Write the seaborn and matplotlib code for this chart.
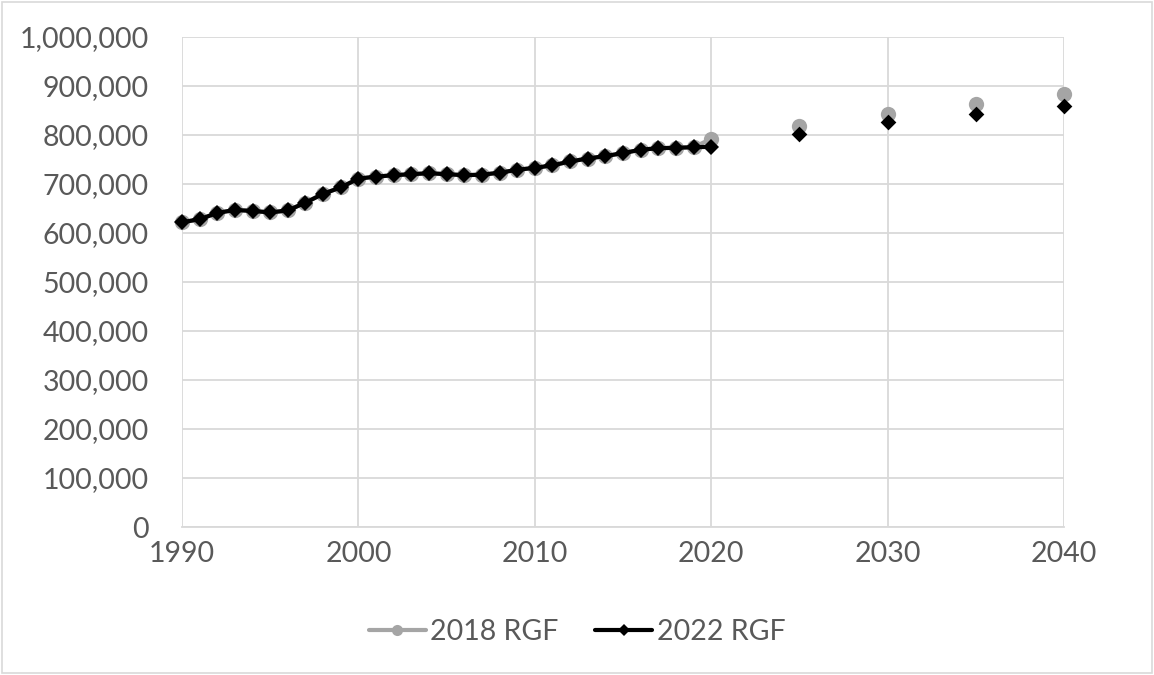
import numpy as np
import pandas as pd
import matplotlib
matplotlib.use("Agg")
import matplotlib.pyplot as plt
import matplotlib.ticker as mticker
from matplotlib.patches import Rectangle
from matplotlib.lines import Line2D
import seaborn as sns

# historical years (both forecasts share the same actuals)
hist_years = list(range(1990, 2021))
hist_2022 = [622000, 628000, 641000, 647000, 645000, 642000, 646000, 662000, 680000, 693000,
             711000, 715000, 718000, 720000, 722000, 720000, 718000, 719000, 723000, 729000,
             733000, 738000, 746000, 752000, 757000, 763000, 770000, 773000, 774000, 775000,
             776000]
hist_2018 = hist_2022[:-1] + [792000]

proj_years = [2025, 2030, 2035, 2040]
proj_2018 = [818000, 842000, 863000, 884000]
proj_2022 = [802000, 826000, 843000, 860000]

grey = "#A5A5A5"
black = "#000000"
text_col = "#595959"
grid_col = "#D9D9D9"

sns.set_style("white")
plt.rcParams["font.family"] = ["Lato", "DejaVu Sans"]

fig = plt.figure(figsize=(11.54, 6.75), dpi=100)
ax = fig.add_axes([182 / 1154, 1 - 527 / 675, (1064 - 182) / 1154, (527 - 37) / 675])

hist = pd.DataFrame({"year": hist_years, "2018": hist_2018, "2022": hist_2022})
proj = pd.DataFrame({"year": proj_years, "2018": proj_2018, "2022": proj_2022})

# 2018 RGF (grey circles) drawn first so 2022 sits on top
sns.lineplot(data=hist, x="year", y="2018", ax=ax, color=grey, lw=3,
             marker="o", markersize=11, markeredgewidth=0, zorder=3)
sns.scatterplot(data=proj, x="year", y="2018", ax=ax, color=grey, marker="o",
                s=121, linewidth=0, zorder=3)

sns.lineplot(data=hist, x="year", y="2022", ax=ax, color=black, lw=3,
             marker="D", markersize=8, markeredgewidth=0, zorder=4)
sns.scatterplot(data=proj, x="year", y="2022", ax=ax, color=black, marker="D",
                s=64, linewidth=0, zorder=4)

for art in ax.lines + ax.collections:
    art.set_clip_on(False)

ax.set_xlim(1990, 2040)
ax.set_ylim(0, 1000000)
ax.set_xticks(range(1990, 2041, 10))
ax.set_yticks(range(0, 1000001, 100000))
ax.yaxis.set_major_formatter(mticker.FuncFormatter(lambda v, p: f"{int(v):,}"))
ax.set_xlabel("")
ax.set_ylabel("")

ax.grid(True, color=grid_col, lw=1.3)
ax.set_axisbelow(True)
for s in ["top", "right", "left"]:
    ax.spines[s].set_visible(False)
ax.spines["bottom"].set_color(grid_col)
ax.spines["bottom"].set_linewidth(1.3)
ax.tick_params(axis="both", length=0, labelsize=20.5, labelcolor=text_col)
ax.tick_params(axis="y", pad=24)
ax.tick_params(axis="x", pad=10)

handles = [
    Line2D([], [], color=grey, lw=3, marker="o", markersize=8, markeredgewidth=0),
    Line2D([], [], color=black, lw=3, marker="D", markersize=6, markeredgewidth=0),
]
fig.legend(handles, ["2018 RGF", "2022 RGF"], loc="center", bbox_to_anchor=(0.5, 1 - 632 / 675),
           ncol=2, frameon=False, fontsize=20.5, labelcolor=text_col, handlelength=2.0,
           columnspacing=1.3, handletextpad=0.15)

fig.patches.append(Rectangle((0.002, 0.003), 0.996, 0.994, transform=fig.transFigure,
                             fill=False, edgecolor=grid_col, lw=1.2))

fig.savefig("out.png", dpi=100)
